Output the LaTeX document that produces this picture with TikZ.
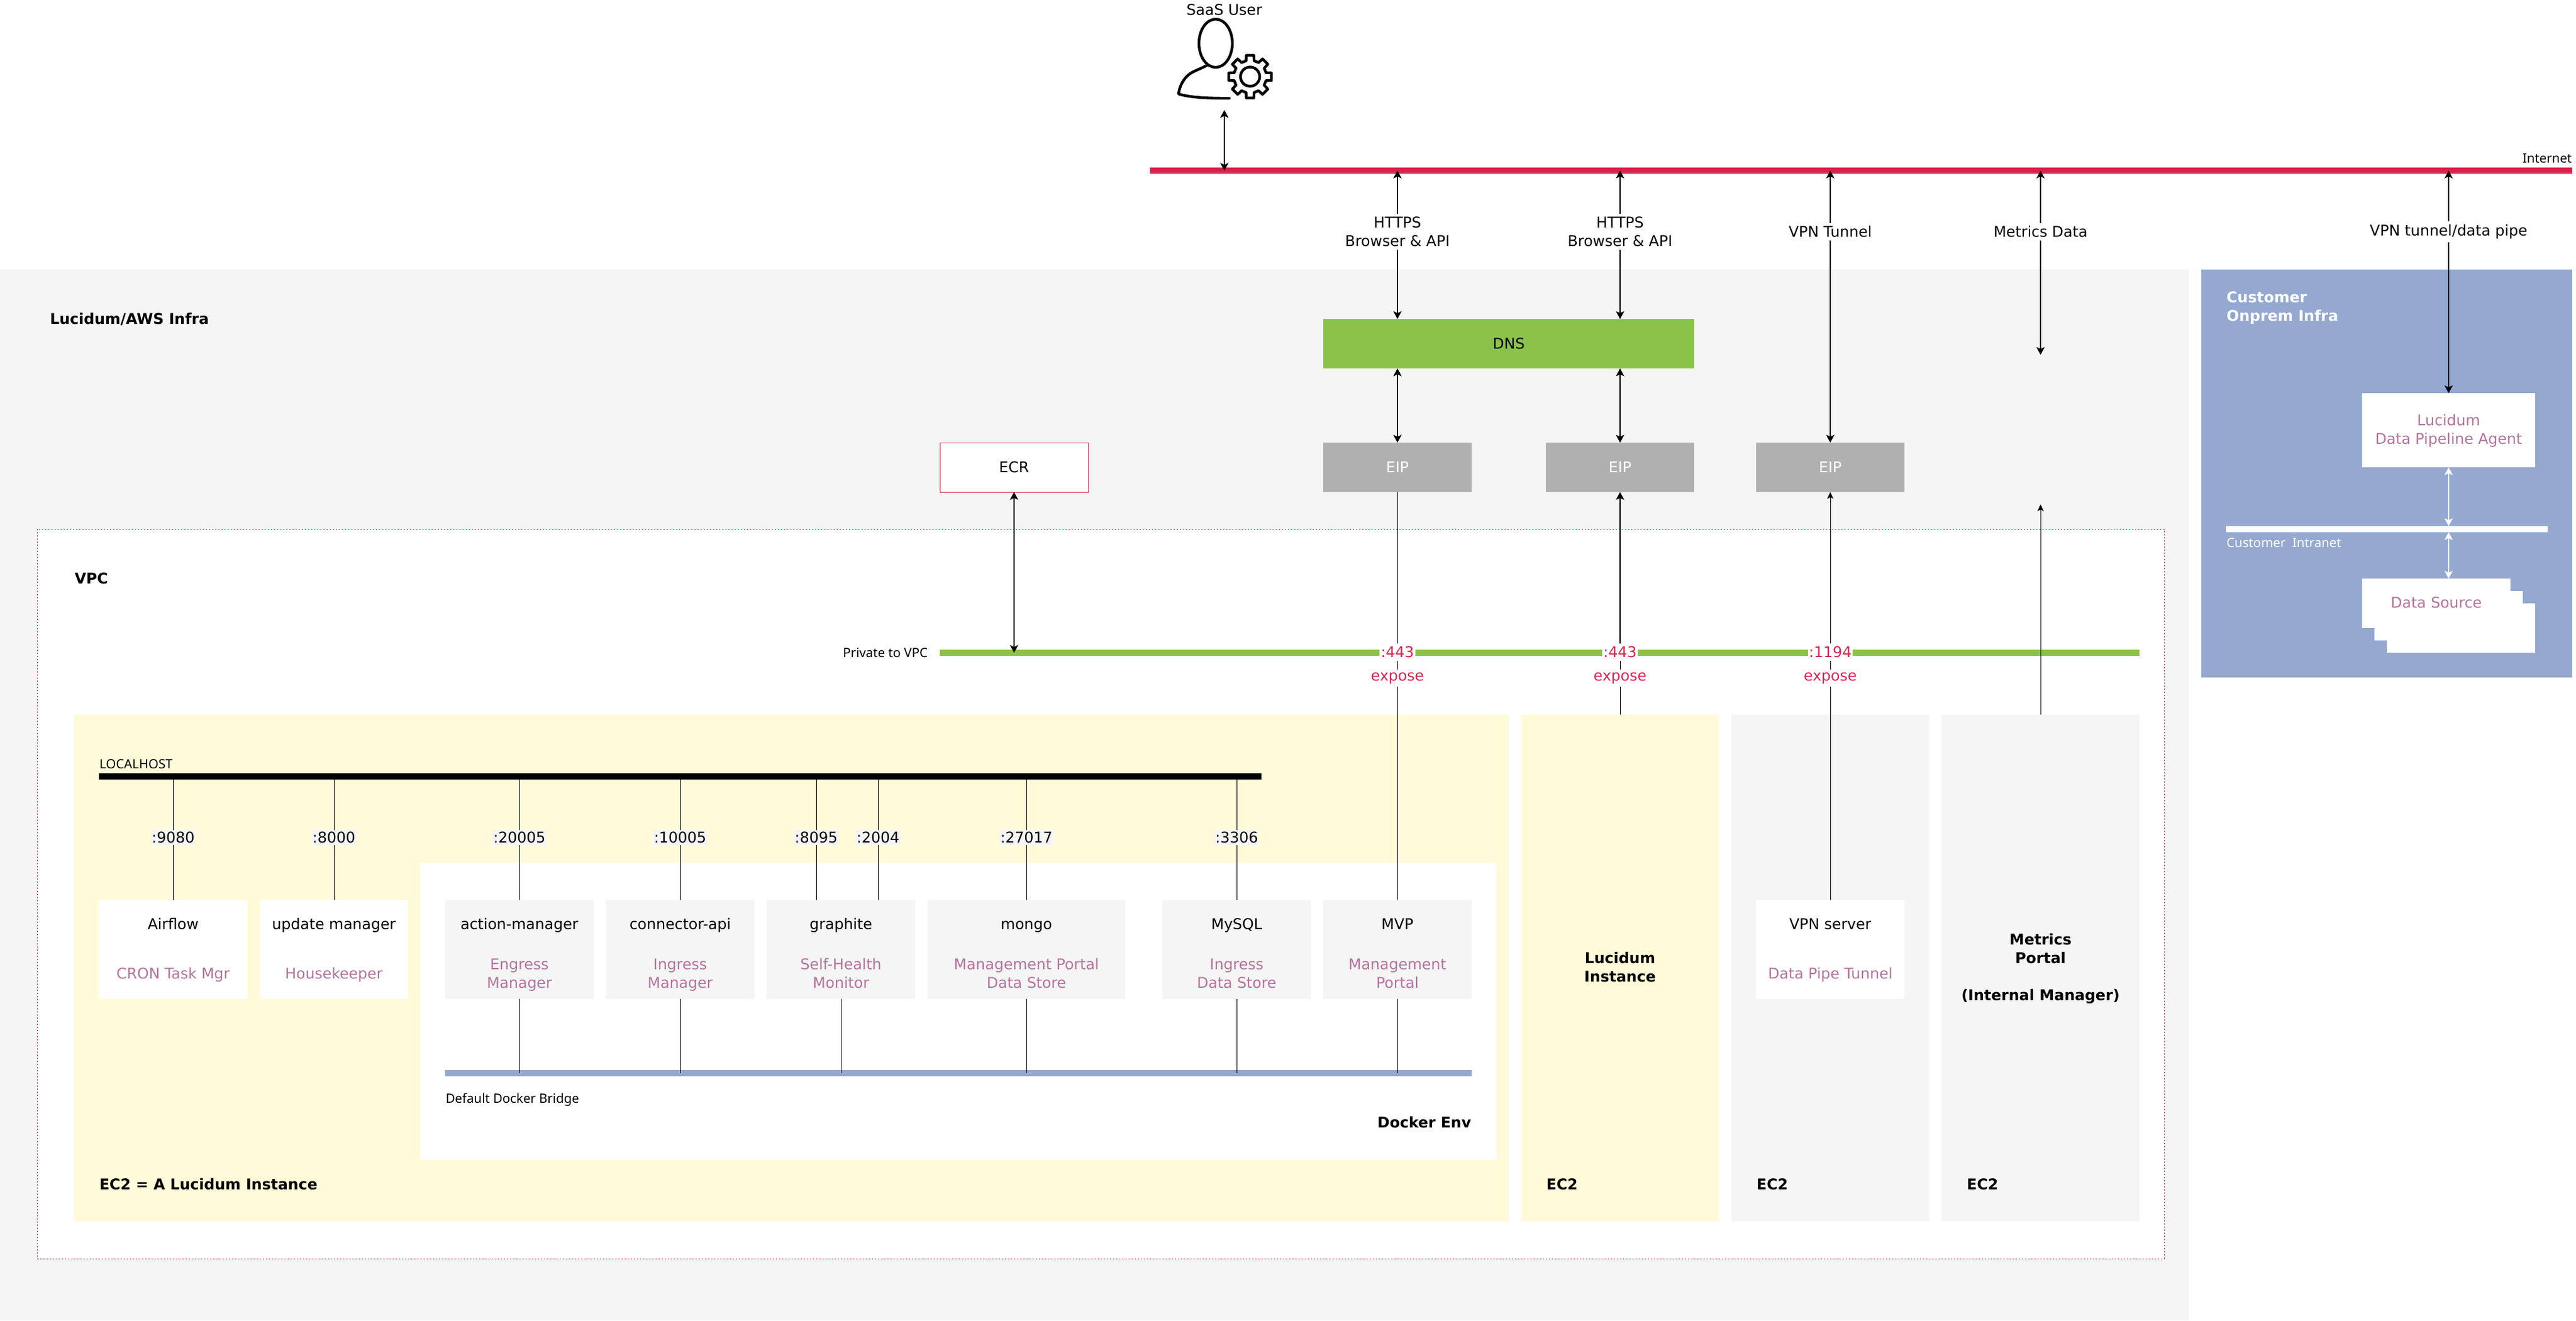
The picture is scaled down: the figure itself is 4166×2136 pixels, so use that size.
\documentclass[tikz,border=0pt]{standalone}
\usepackage{fontspec}
\setmainfont{DejaVu Sans}
\newfontfamily\notof{Noto Sans}
\usetikzlibrary{arrows.meta}
\definecolor{bggray}{HTML}{F5F5F5}
\definecolor{custblue}{HTML}{94A8D0}
\definecolor{inetred}{HTML}{D8234C}
\definecolor{exred}{HTML}{DC2550}
\definecolor{dnsgreen}{HTML}{8BC34A}
\definecolor{eipgray}{HTML}{B0B0B0}
\definecolor{ecyellow}{HTML}{FFFBD9}
\definecolor{mauve}{HTML}{B5739D}
\newcommand{\nbox}[7][]{\node[rectangle,inner sep=0pt,outer sep=0pt,minimum width={#5*0.24pt-#3*0.24pt},minimum height={#6*0.24pt-#4*0.24pt},#1] (#2) at ({#3*0.5+#5*0.5},{#4*0.5+#6*0.5}) {#7};}
\tikzset{
  x=0.24pt,y=-0.24pt,
  txt/.style={font=\fontsize{5.76}{7.2}\selectfont,text=black,align=center,inner sep=0pt,anchor=mid,yshift=0.55pt},
  boldt/.style={font=\fontsize{5.76}{7.2}\selectfont\bfseries,text=black,inner sep=0pt,anchor=mid,yshift=0.55pt},
  small/.style={font=\notof\fontsize{4.98}{6.2}\selectfont,text=black,inner sep=0pt,anchor=mid,yshift=0.45pt},
  role/.style={txt,text=mauve},
  lab/.style={font=\fontsize{5.76}{7.2}\selectfont,text=black,align=center,fill=white,inner xsep=1pt,inner ysep=1.2pt,anchor=center},
  port/.style={lab,fill=bggray,inner ysep=0.6pt,inner xsep=0.4pt},
  exlab/.style={lab,text=exred,inner xsep=0.4pt},
  arr/.style={line width=0.42pt,black,{Stealth[length=3pt,width=3.2pt,inset=0.7pt]}-{Stealth[length=3pt,width=3.2pt,inset=0.7pt]}},
  warr/.style={line width=0.42pt,white,{Stealth[length=3pt,width=3.2pt,inset=0.7pt]}-{Stealth[length=3pt,width=3.2pt,inset=0.7pt]}},
  up/.style={line width=0.5pt,black,-{Stealth[length=3pt,width=3.2pt,inset=0.7pt]}},
  thinup/.style={line width=0.24pt,black,-{Stealth[length=2.6pt,width=2.4pt,inset=0.6pt]}},
  link/.style={line width=0.24pt,black},
  icon/.style={line width=1.05pt,black,line join=round,line cap=round},
}
\begin{document}
\begin{tikzpicture}
\useasboundingbox (0,0) rectangle (4166,2136);
% regions
\nbox[fill=bggray]{aws}{0}{436}{3540}{2136}{}
\nbox[fill=custblue]{cust}{3560}{436}{4160}{1096}{}
\nbox[fill=white,draw=inetred,line width=0.24pt,dash pattern=on 0.6pt off 0.6pt]{vpc}{60}{856}{3500}{2036}{}
\nbox[fill=ecyellow]{ecmain}{120}{1156}{2440}{1976}{}
\nbox[fill=white]{docker}{680}{1396}{2420}{1876}{}
\nbox[fill=ecyellow]{ecluc}{2460}{1156}{2780}{1976}{}
\nbox[fill=bggray]{ecvpn}{2800}{1156}{3120}{1976}{}
\nbox[fill=bggray]{ecmet}{3140}{1156}{3460}{1976}{}
% bars
\nbox[fill=inetred]{inet}{1860}{271}{4160}{281}{}
\nbox[fill=dnsgreen]{priv}{1520}{1051}{3460}{1061}{}
\nbox[fill=black]{lh}{160}{1251}{2040}{1261}{}
\nbox[fill=custblue]{bridge}{720}{1731}{2380}{1741}{}
\nbox[fill=white]{intra}{3600}{851}{4120}{861}{}
% top boxes
\nbox[fill=dnsgreen]{dns}{2140}{516}{2740}{596}{}
\nbox[fill=eipgray]{eipa}{2140}{716}{2380}{796}{}
\nbox[fill=eipgray]{eipb}{2500}{716}{2740}{796}{}
\nbox[fill=eipgray]{eipc}{2840}{716}{3080}{796}{}
\nbox[fill=white,draw=inetred,line width=0.24pt]{ecr}{1520}{716}{1760}{796}{}
\node[txt] (tdns) at (2440,555) {DNS};
\node[txt,text=white] (teipa) at (2260,755) {EIP};
\node[txt,text=white] (teipb) at (2620,755) {EIP};
\node[txt,text=white] (teipc) at (2960,755) {EIP};
\node[txt] (tecr) at (1640,755) {ECR};
% customer side
\nbox[fill=white]{agent}{3820}{636}{4100}{756}{}
\nbox[fill=white]{dsc}{3860}{976}{4100}{1056}{}
\nbox[fill=white]{dsb}{3840}{956}{4080}{1036}{}
\nbox[fill=white]{dsa}{3820}{936}{4060}{1016}{}
% service boxes
\nbox[fill=white]{airflow}{160}{1456}{400}{1616}{}
\nbox[fill=white]{update}{420}{1456}{660}{1616}{}
\nbox[fill=bggray]{action}{720}{1456}{960}{1616}{}
\nbox[fill=bggray]{connector}{980}{1456}{1220}{1616}{}
\nbox[fill=bggray]{graphite}{1240}{1456}{1480}{1616}{}
\nbox[fill=bggray]{mongo}{1500}{1456}{1820}{1616}{}
\nbox[fill=bggray]{mysql}{1880}{1456}{2120}{1616}{}
\nbox[fill=bggray]{mvp}{2140}{1456}{2380}{1616}{}
\nbox[fill=white]{vpnsrv}{2840}{1456}{3080}{1616}{}
% free ends
\coordinate (uend) at (1980,178);
\coordinate (mettop) at (3300,574);
\coordinate (metlow) at (3300,816);
\coordinate (p8095) at (1320,1456);
\coordinate (p2004) at (1420,1456);
\coordinate (agx) at (3960,636);
% connectors
\draw[arr] (uend) -- (uend |- inet.center);
\draw[arr] (eipa |- inet.center) -- (eipa |- dns.north);
\draw[arr] (eipb |- inet.center) -- (eipb |- dns.north);
\draw[arr] (eipa |- dns.south) -- (eipa.north);
\draw[arr] (eipb |- dns.south) -- (eipb.north);
\draw[arr] (eipc |- inet.center) -- (eipc.north);
\draw[arr] (mettop |- inet.center) -- (mettop);
\draw[arr] (agx |- inet.center) -- (agx);
\draw[arr] (ecr.south) -- (ecr.south |- priv.center);
\draw[warr] (agx |- agent.south) -- (agx |- intra.north);
\draw[warr] (agx |- intra.south) -- (agx |- dsa.north);
\draw[link] (eipa.south) -- (mvp.north);
\draw[link] (eipb |- ecluc.north) -- (eipb |- priv.center);
\draw[up] (eipb |- priv.center) -- (eipb.south);
\draw[thinup] (vpnsrv.north) -- (eipc.south);
\draw[thinup] (ecmet.north) -- (metlow);
\draw[link] (airflow.north) -- (airflow.north |- lh.south);
\draw[link] (update.north) -- (update.north |- lh.south);
\draw[link] (action.north) -- (action.north |- lh.south);
\draw[link] (connector.north) -- (connector.north |- lh.south);
\draw[link] (p8095) -- (p8095 |- lh.south);
\draw[link] (p2004) -- (p2004 |- lh.south);
\draw[link] (mongo.north) -- (mongo.north |- lh.south);
\draw[link] (mysql.north) -- (mysql.north |- lh.south);
\draw[link] (action.south) -- (action.south |- bridge.center);
\draw[link] (connector.south) -- (connector.south |- bridge.center);
\draw[link] (graphite.south) -- (graphite.south |- bridge.center);
\draw[link] (mongo.south) -- (mongo.south |- bridge.center);
\draw[link] (mysql.south) -- (mysql.south |- bridge.center);
\draw[link] (mvp.south) -- (mvp.south |- bridge.center);
% connector labels
\node[lab] (lhttpsa) at (2260,375) {HTTPS\\Browser \& API};
\node[lab] (lhttpsb) at (2620,375) {HTTPS\\Browser \& API};
\node[lab] (lvpn) at (2960,375) {VPN Tunnel};
\node[lab] (lmet) at (3300,375) {Metrics Data};
\node[lab] (lpipe) at (3960,375) {VPN tunnel/data pipe};
\node[exlab] (la) at (2260,1055) {:443};
\node[exlab] (lb) at (2620,1055) {:443};
\node[exlab] (lc) at (2960,1055) {:1194};
\node[exlab] (ea) at (2260,1097) {expose};
\node[exlab] (eb) at (2620,1097) {expose};
\node[exlab] (ec) at (2960,1097) {expose};
\node[port] (p1) at (280,1355) {:9080};
\node[port] (p2) at (540,1355) {:8000};
\node[port] (p3) at (840,1355) {:20005};
\node[port] (p4) at (1100,1355) {:10005};
\node[port] (p5) at (1320,1355) {:8095};
\node[port] (p6) at (1420,1355) {:2004};
\node[port] (p7) at (1660,1355) {:27017};
\node[port] (p8) at (2000,1355) {:3306};
% texts
\node[txt] (tsaas) at (1980,15) {SaaS User};
\node[small,anchor=mid east] (tinet) at (4160,254) {Internet};
\node[small,anchor=mid east] (tpriv) at (1501,1054) {Private to VPC};
\node[small,anchor=mid west] (tlh) at (160,1234) {LOCALHOST};
\node[small,anchor=mid west] (tbr) at (720,1775) {Default Docker Bridge};
\node[small,anchor=mid west,text=white] (tin) at (3600,876) {Customer\ \ Intranet};
\node[boldt,anchor=mid west] (taws) at (80,515) {Lucidum/AWS Infra};
\node[boldt,anchor=mid west] (tvpc) at (120,935) {VPC};
\node[boldt,anchor=mid west] (tec) at (160,1915) {EC2 = A Lucidum Instance};
\node[boldt,anchor=mid east] (tdk) at (2380,1815) {Docker Env};
\node[boldt,anchor=mid west] (te1) at (2500,1915) {EC2};
\node[boldt,anchor=mid west] (te2) at (2840,1915) {EC2};
\node[boldt,anchor=mid west] (te3) at (3180,1915) {EC2};
\node[boldt,anchor=mid west,text=white] (tc1) at (3600,480) {Customer};
\node[boldt,anchor=mid west,text=white] (tc2) at (3600,510) {Onprem Infra};
\node[boldt] (tl1) at (2620,1549.5) {Lucidum};
\node[boldt] (tl2) at (2620,1579.5) {Instance};
\node[boldt] (tm1) at (3300,1519) {Metrics};
\node[boldt] (tm2) at (3300,1549) {Portal};
\node[boldt] (tm3) at (3300,1609) {(Internal Manager)};
\node[role] (ta1) at (3960,679) {Lucidum};
\node[role] (ta2) at (3960,709) {Data Pipeline Agent};
\node[role] (tds) at (3940,974) {Data Source};
\node[txt] (n1) at (280,1494) {Airflow};
\node[role] (r1) at (280,1574) {CRON Task Mgr};
\node[txt] (n2) at (540,1494) {update manager};
\node[role] (r2) at (540,1574) {Housekeeper};
\node[txt] (n3) at (840,1494) {action-manager};
\node[role] (r3a) at (840,1559) {Engress};
\node[role] (r3b) at (840,1589) {Manager};
\node[txt] (n4) at (1100,1494) {connector-api};
\node[role] (r4a) at (1100,1559) {Ingress};
\node[role] (r4b) at (1100,1589) {Manager};
\node[txt] (n5) at (1360,1494) {graphite};
\node[role] (r5a) at (1360,1559) {Self-Health};
\node[role] (r5b) at (1360,1589) {Monitor};
\node[txt] (n6) at (1660,1494) {mongo};
\node[role] (r6a) at (1660,1559) {Management Portal};
\node[role] (r6b) at (1660,1589) {Data Store};
\node[txt] (n7) at (2000,1494) {MySQL};
\node[role] (r7a) at (2000,1559) {Ingress};
\node[role] (r7b) at (2000,1589) {Data Store};
\node[txt] (n8) at (2260,1494) {MVP};
\node[role] (r8a) at (2260,1559) {Management};
\node[role] (r8b) at (2260,1589) {Portal};
\node[txt] (n9) at (2960,1494) {VPN server};
\node[role] (r9) at (2960,1574) {Data Pipe Tunnel};
% user icon
\draw[icon] (1966,70) ellipse [x radius=27,y radius=39];
\draw[icon] (1951.5,106) .. controls (1938,113) and (1927,116) .. (1921,122) .. controls (1912,130) and (1907,142) .. (1906,152) .. controls (1925,158) and (1955,159) .. (1988,159);
\begin{scope}[shift={(2021.7,124)}]
\draw[icon] \foreach \a in {0,45,...,315}{(\a-14:26.5) -- (\a-10:35) -- (\a+10:35) -- (\a+14:26.5) -- (\a+31:26.5)};
\draw[icon] (0,0) circle [radius=15.5];
\end{scope}
\end{tikzpicture}
\end{document}
